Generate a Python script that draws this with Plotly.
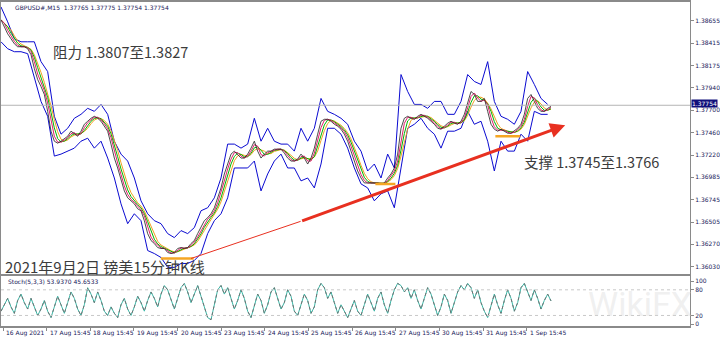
import numpy as np
import pandas as pd
import plotly.graph_objects as go

# ---------------- data ----------------
header_text = "GBPUSD#,M15  1.37765 1.37775 1.37754 1.37754"
stoch_text = "Stoch(5,3,3) 53.9370 45.6533"
last_price = 1.37754
step_hours = 110 / 60  # spacing of the traced samples, trading hours

close = [
    1.38666, 1.38592, 1.38517, 1.38464, 1.38411, 1.38379, 1.38379, 1.38379, 1.38358, 1.38294,
    1.38146, 1.38029, 1.37954, 1.37869, 1.37689, 1.37477, 1.37370, 1.37349, 1.37370, 1.37392,
    1.37423, 1.37477, 1.37445, 1.37423, 1.37477, 1.37551, 1.37583, 1.37615, 1.37636, 1.37615,
    1.37583, 1.37530, 1.37477, 1.37339, 1.37190, 1.37084, 1.36946, 1.36839, 1.36765, 1.36733,
    1.36701, 1.36648, 1.36627, 1.36521, 1.36383, 1.36309, 1.36277, 1.36234, 1.36224, 1.36224,
    1.36181, 1.36170, 1.36181, 1.36224, 1.36234, 1.36224, 1.36234, 1.36277, 1.36309, 1.36383,
    1.36447, 1.36521, 1.36553, 1.36595, 1.36659, 1.36765, 1.36871, 1.37020, 1.37126, 1.37232,
    1.37264, 1.37232, 1.37190, 1.37190, 1.37232, 1.37296, 1.37370, 1.37264, 1.37190, 1.37232,
    1.37264, 1.37264, 1.37285, 1.37285, 1.37285, 1.37243, 1.37190, 1.37158, 1.37158, 1.37179,
    1.37232, 1.37190, 1.37126, 1.37190, 1.37296, 1.37445, 1.37583, 1.37604, 1.37604, 1.37583,
    1.37551, 1.37530, 1.37498, 1.37445, 1.37370, 1.37264, 1.37158, 1.37052, 1.36977, 1.36924,
    1.36924, 1.36924, 1.36924, 1.36924, 1.36914, 1.36924, 1.36977, 1.37020, 1.37084, 1.37232,
    1.37508, 1.37615, 1.37636, 1.37615, 1.37604, 1.37636, 1.37657, 1.37636, 1.37615, 1.37583,
    1.37551, 1.37508, 1.37498, 1.37530, 1.37562, 1.37583, 1.37562, 1.37551, 1.37583, 1.37657,
    1.37795, 1.37901, 1.37869, 1.37795, 1.37795, 1.37827, 1.37689, 1.37551, 1.37498, 1.37477,
    1.37498, 1.37477, 1.37455, 1.37455, 1.37477, 1.37508, 1.37551, 1.37657, 1.37827, 1.37869,
    1.37795, 1.37721, 1.37689, 1.37689, 1.37721, 1.37742,
]

band_upper = [
    1.38804, 1.38645, 1.38464, 1.38432, 1.38432, 1.38432, 1.38220, 1.38114, 1.37636, 1.37445,
    1.37508, 1.37615, 1.37657, 1.37721, 1.37689, 1.37763, 1.37657, 1.37370, 1.37232, 1.37158,
    1.36977, 1.36733, 1.36595, 1.36521, 1.36489, 1.36383, 1.36340, 1.36415, 1.36383, 1.36447,
    1.36627, 1.36659, 1.36765, 1.36977, 1.37339, 1.37339, 1.37296, 1.37339, 1.37615, 1.37370,
    1.37508, 1.37370, 1.37339, 1.37339, 1.37264, 1.37508, 1.37370, 1.37508, 1.37827, 1.37689,
    1.37657, 1.37615, 1.37551, 1.37370, 1.37264, 1.37052, 1.37126, 1.36977, 1.37232, 1.37084,
    1.38082, 1.37901, 1.37763, 1.37763, 1.37721, 1.37795, 1.37795, 1.37657, 1.37657, 1.37795,
    1.38082, 1.38008, 1.37976, 1.38220, 1.37795, 1.37636, 1.37604, 1.37551, 1.37689, 1.38114,
    1.37976, 1.37827, 1.37763,
]

band_lower = [
    1.38432, 1.38358, 1.38326, 1.38326, 1.38305, 1.38039, 1.37795, 1.37636, 1.37211, 1.37232,
    1.37264, 1.37296, 1.37370, 1.37402, 1.37296, 1.37370, 1.37190, 1.36977, 1.36701, 1.36489,
    1.36595, 1.36521, 1.36202, 1.36170, 1.36128, 1.36022, 1.36022, 1.36064, 1.36064, 1.36096,
    1.36170, 1.36383, 1.36521, 1.36595, 1.36765, 1.37084, 1.37084, 1.37084, 1.37158, 1.36839,
    1.37020, 1.37158, 1.37232, 1.37084, 1.37084, 1.36946, 1.36977, 1.36871, 1.37126, 1.37508,
    1.37508, 1.37445, 1.37296, 1.37084, 1.36914, 1.36871, 1.36733, 1.36808, 1.36839, 1.36659,
    1.37084, 1.37508, 1.37551, 1.37615, 1.37508, 1.37445, 1.37296, 1.37477, 1.37477, 1.37508,
    1.37689, 1.37551, 1.37583, 1.37370, 1.37052, 1.37370, 1.37264, 1.37264, 1.37445, 1.37370,
    1.37689, 1.37657, 1.37657,
]

stoch_main = [
    30, 45, 60, 40, 25, 55, 70, 50, 35, 60,
    40, 20, 35, 55, 30, 15, 40, 65, 45, 25,
    50, 75, 60, 35, 20, 45, 85, 70, 50, 75,
    55, 30, 20, 40, 25, 15, 45, 60, 35, 20,
    40, 65, 50, 30, 55, 75, 60, 40, 70, 90,
    80, 55, 35, 60, 85, 95, 75, 50, 70, 90,
    65, 40, 15, 10, 45, 80, 90, 70, 85, 60,
    35, 55, 80, 60, 30, 15, 40, 70, 55, 25,
    45, 75, 85, 60, 35, 50, 80, 65, 30, 20,
    45, 70, 55, 25, 40, 80, 95, 85, 60, 75,
    50, 25, 45, 30, 15, 35, 55, 30, 20, 45,
    70, 50, 30, 60, 75, 45, 25, 55, 80, 95,
    90, 75, 85, 60, 80, 55, 35, 60, 85, 70,
    45, 20, 40, 70, 55, 25, 50, 75, 90, 80,
    95, 85, 60, 80, 50, 30, 15, 40, 70, 45,
    25, 55, 80, 60, 30, 50, 85, 95, 75, 55,
    80, 60, 35, 55, 70, 54,
]

price_ticks = [1.38655, 1.38415, 1.38175, 1.37940, 1.37700, 1.37460,
               1.37220, 1.36985, 1.36745, 1.36505, 1.36270, 1.36030]
stoch_ticks = [0, 20, 80, 100]
stoch_levels = [20, 80]

day_tick_hours = [1.1, 25.1, 49.1, 73.1, 97.1, 121.1, 145.1, 169.1, 193.1, 217.1, 241.1, 265.1, 289.1]
day_labels = ["16 Aug 2021", "17 Aug 15:45", "18 Aug 15:45", "19 Aug 15:45", "20 Aug 15:45",
              "23 Aug 15:45", "24 Aug 15:45", "25 Aug 15:45", "26 Aug 15:45", "27 Aug 15:45",
              "30 Aug 15:45", "31 Aug 15:45", "1 Sep 15:45"]

# support trendline (thin part then thick arrow part)
trend_hours = [104.5, 164.8, 310.3]
trend_price = [1.36117, 1.36514, 1.37540]

# orange horizontal level segments
level_start = [87.9, 205.9, 271.9]
level_end = [106.0, 216.9, 285.6]
level_price = [1.36117, 1.36914, 1.37423]

resist_text = "阻力 1.3807至1.3827"
support_text = "支撑 1.3745至1.3766"
title_text = "2021年9月2日 镑美15分钟K线"

# ---------------- figure ----------------
t_close = np.arange(len(close)) * step_hours
t_band = np.arange(len(band_upper)) * 2 * step_hours
s_close = pd.Series(close)
ma_fast = s_close.rolling(2, min_periods=1).mean()
ma_mid = s_close.rolling(3, min_periods=1).mean()
ma_slow = s_close.rolling(4, min_periods=1).mean()

fig = go.Figure()
blue = "#0a0ad0"
fig.add_trace(go.Scatter(x=t_band, y=band_upper, mode="lines", line=dict(color=blue, width=1), xaxis="x", yaxis="y"))
fig.add_trace(go.Scatter(x=t_band, y=band_lower, mode="lines", line=dict(color=blue, width=1), xaxis="x", yaxis="y"))
fig.add_trace(go.Scatter(x=t_close, y=ma_slow, mode="lines", line=dict(color="#f0a020", width=1)))
fig.add_trace(go.Scatter(x=t_close, y=ma_mid, mode="lines", line=dict(color="#00b400", width=1)))
fig.add_trace(go.Scatter(x=t_close, y=ma_fast, mode="lines", line=dict(color="#e0206a", width=1)))
fig.add_trace(go.Scatter(x=t_close, y=close, mode="lines", line=dict(color="#202020", width=0.8)))

# level segments
for a, b, p in zip(level_start, level_end, level_price):
    fig.add_trace(go.Scatter(x=[a, b], y=[p, p], mode="lines", line=dict(color="#f5a623", width=2.5)))

# trendline thin part
fig.add_trace(go.Scatter(x=trend_hours[:2], y=trend_price[:2], mode="lines",
                         line=dict(color="#e83020", width=1)))

# stochastic
t_st = np.arange(len(stoch_main)) * step_hours
fig.add_trace(go.Scatter(x=t_st, y=stoch_main, mode="lines", line=dict(color="#3cb8a8", width=1),
                         xaxis="x2", yaxis="y2"))
fig.add_trace(go.Scatter(x=t_st, y=stoch_main, mode="lines", line=dict(color="#707070", width=1, dash="dot"),
                         xaxis="x2", yaxis="y2"))

plot_w, plot_h = 690, 326
x_max = plot_w / 1.82083

shapes = [
    dict(type="line", xref="paper", x0=0, x1=1, yref="y", y0=last_price, y1=last_price,
         line=dict(color="#b4b4b4", width=1)),
]
for lv in stoch_levels:
    shapes.append(dict(type="line", xref="paper", x0=0, x1=1, yref="y2", y0=lv, y1=lv,
                       line=dict(color="#c8c8c8", width=1, dash="dot")))

annotations = [
    dict(x=trend_hours[2], y=trend_price[2], ax=trend_hours[1], ay=trend_price[1],
         xref="x", yref="y", axref="x", ayref="y", showarrow=True, arrowhead=2,
         arrowsize=1, arrowwidth=3, arrowcolor="#e83020", text=""),
    dict(text=header_text, xref="paper", yref="paper", x=12 / plot_w, y=(plot_h - 6) / plot_h,
         xanchor="left", yanchor="middle", showarrow=False,
         font=dict(family="DejaVu Sans", size=6, color="#20205a")),
    dict(text=stoch_text, xref="paper", yref="paper", x=5 / plot_w, y=(plot_h - 281) / plot_h,
         xanchor="left", yanchor="middle", showarrow=False,
         font=dict(family="DejaVu Sans", size=6, color="#20205a")),
    dict(text=resist_text, xref="paper", yref="paper", x=50 / plot_w, y=(plot_h - 50) / plot_h,
         xanchor="left", yanchor="middle", showarrow=False,
         font=dict(family="Noto Sans CJK SC", size=14.5, color="#3c3c3c")),
    dict(text=support_text, xref="paper", yref="paper", x=522 / plot_w, y=(plot_h - 160) / plot_h,
         xanchor="left", yanchor="middle", showarrow=False,
         font=dict(family="Noto Sans CJK SC", size=14.5, color="#3c3c3c")),
    dict(text=title_text, xref="paper", yref="paper", x=2 / plot_w, y=(plot_h - 266) / plot_h,
         xanchor="left", yanchor="middle", showarrow=False,
         font=dict(family="Noto Sans CJK SC", size=15, color="#3c3c3c")),
    dict(text="WikiFX", xref="paper", yref="paper", x=640 / plot_w, y=(plot_h - 304) / plot_h,
         xanchor="center", yanchor="middle", showarrow=False,
         font=dict(family="Roboto", size=34, color="rgba(215,215,215,0.4)")),
    dict(text=f"{last_price:.5f}", xref="paper", yref="y", x=1, y=last_price, xshift=1, yshift=2,
         xanchor="left", yanchor="middle", showarrow=False, bgcolor="#10107a", borderpad=0,
         font=dict(family="DejaVu Sans", size=6, color="white")),
]
for th, lab in zip(day_tick_hours, day_labels):
    annotations.append(dict(text=lab, xref="x2", yref="paper", x=th, y=-7 / plot_h, xshift=1,
                            xanchor="left", yanchor="middle", showarrow=False,
                            font=dict(family="DejaVu Sans", size=6, color="#20205a")))

axis_col = "#8a8a8a"
fig.update_layout(
    width=720, height=341, margin=dict(l=0, r=30, t=0, b=15),
    paper_bgcolor="white", plot_bgcolor="white", showlegend=False,
    xaxis=dict(domain=[0, 1], range=[0, x_max], showgrid=False, zeroline=False,
               showticklabels=False, showline=True, linecolor=axis_col, linewidth=2, mirror=True,
               anchor="y"),
    yaxis=dict(domain=[1 - 274 / plot_h, 1], range=[1.35948, 1.38857], side="right",
               tickvals=price_ticks, ticktext=[f"{v:.5f}" for v in price_ticks],
               ticks="outside", ticklen=3, tickcolor=axis_col, showgrid=False, zeroline=False,
               showline=True, linecolor=axis_col, linewidth=1, mirror=True,
               tickfont=dict(family="DejaVu Sans", size=6, color="#20205a"), anchor="x"),
    xaxis2=dict(domain=[0, 1], range=[0, x_max], showgrid=False, zeroline=False,
                showticklabels=False, tickvals=day_tick_hours, ticks="outside", ticklen=3,
                tickcolor=axis_col, showline=True, linecolor=axis_col, linewidth=2, mirror=True,
                anchor="y2"),
    yaxis2=dict(domain=[0, 1 - 276 / plot_h], range=[-4.65, 111.6], side="right",
                tickvals=stoch_ticks, ticktext=[str(v) for v in stoch_ticks],
                ticks="outside", ticklen=3, tickcolor=axis_col, showgrid=False, zeroline=False,
                showline=True, linecolor=axis_col, linewidth=1, mirror=True,
                tickfont=dict(family="DejaVu Sans", size=6, color="#20205a"), anchor="x2"),
    shapes=shapes, annotations=annotations,
)

fig.write_html("out.html")
